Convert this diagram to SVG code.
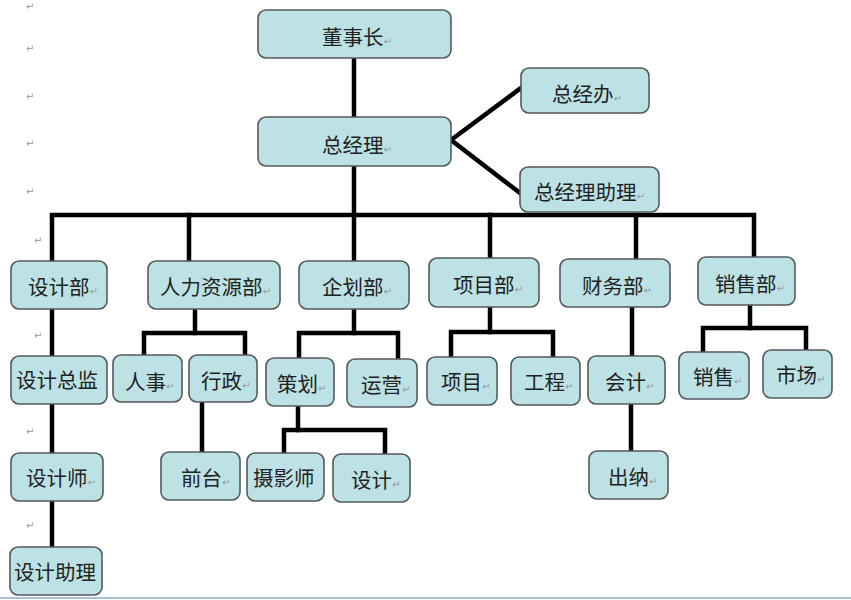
<svg xmlns="http://www.w3.org/2000/svg" width="851" height="600" viewBox="0 0 851 600">
<style>
.box{fill:#bde2e5;stroke:#555a5c;stroke-width:1.6}
.t{font-family:"Noto Sans CJK SC","Noto Sans",sans-serif;font-size:20.5px;fill:#222}
.pm{font-family:"DejaVu Sans","Noto Sans CJK SC",sans-serif;font-size:10px;fill:#9a9a9a}
.c{stroke:#000;stroke-width:4.5;fill:none;stroke-linecap:square;stroke-linejoin:miter}
</style>
<rect width="851" height="600" fill="#fff"/>
<line x1="0" y1="598" x2="851" y2="598" stroke="#a9bfd6" stroke-width="2"/>
<g id="marks" class="pm">
<text x="26" y="10">↵</text>
<text x="26" y="52">↵</text>
<text x="26" y="100">↵</text>
<text x="26" y="147">↵</text>
<text x="26" y="195">↵</text>
<text x="34" y="244">↵</text>
<text x="34" y="339">↵</text>
<text x="26" y="435">↵</text>
<text x="26" y="529">↵</text>
</g>
<g id="connectors" class="c">
<line x1="354" y1="58" x2="354" y2="117"/>
<line x1="354" y1="166" x2="354" y2="215"/>
<polyline points="521,88 451,140 520,193"/>
<polyline points="52,260 52,215 754,215 754,257"/>
<line x1="189" y1="215" x2="189" y2="261"/>
<line x1="354" y1="215" x2="354" y2="261"/>
<line x1="490" y1="215" x2="490" y2="258"/>
<line x1="636" y1="215" x2="636" y2="259"/>
<line x1="52" y1="309" x2="52" y2="356"/>
<line x1="195" y1="309" x2="195" y2="333"/>
<polyline points="144,355 144,333 245,333 245,355"/>
<line x1="354" y1="309" x2="354" y2="333"/>
<polyline points="299,358 299,333 398,333 398,359"/>
<line x1="490" y1="307" x2="490" y2="332"/>
<polyline points="451,357 451,332 553,332 553,357"/>
<line x1="632" y1="307" x2="632" y2="356"/>
<line x1="750" y1="305" x2="750" y2="328"/>
<polyline points="703,352 703,328 806,328 806,350"/>
<line x1="52" y1="404" x2="52" y2="453"/>
<line x1="52" y1="501" x2="52" y2="547"/>
<line x1="202" y1="402" x2="202" y2="452"/>
<line x1="298" y1="406" x2="298" y2="430"/>
<polyline points="284,453 284,430 385,430 385,454"/>
<line x1="631" y1="404" x2="631" y2="451"/>
</g>
<g id="n_dongshizhang"><rect class="box" x="258" y="10" width="193" height="48" rx="8"/><text class="t" x="322" y="45">董事长<tspan class="pm">↵</tspan></text></g>
<g id="n_zongjingli"><rect class="box" x="258" y="117" width="193" height="49" rx="8"/><text class="t" x="322" y="153">总经理<tspan class="pm">↵</tspan></text></g>
<g id="n_zongjingban"><rect class="box" x="521" y="68" width="128" height="45" rx="8"/><text class="t" x="552" y="102">总经办<tspan class="pm">↵</tspan></text></g>
<g id="n_zongjinglizhuli"><rect class="box" x="520" y="167" width="139" height="45" rx="8"/><text class="t" x="534" y="200">总经理助理<tspan class="pm">↵</tspan></text></g>
<g id="n_shejibu"><rect class="box" x="11" y="261" width="96" height="48" rx="8"/><text class="t" x="28" y="295">设计部<tspan class="pm">↵</tspan></text></g>
<g id="n_renli"><rect class="box" x="148" y="261" width="132" height="48" rx="8"/><text class="t" x="160" y="295">人力资源部<tspan class="pm">↵</tspan></text></g>
<g id="n_qihua"><rect class="box" x="299" y="261" width="110" height="48" rx="8"/><text class="t" x="322" y="295">企划部<tspan class="pm">↵</tspan></text></g>
<g id="n_xiangmubu"><rect class="box" x="429" y="258" width="110" height="49" rx="8"/><text class="t" x="453" y="293">项目部<tspan class="pm">↵</tspan></text></g>
<g id="n_caiwu"><rect class="box" x="560" y="259" width="110" height="48" rx="8"/><text class="t" x="582" y="294">财务部<tspan class="pm">↵</tspan></text></g>
<g id="n_xiaoshoubu"><rect class="box" x="698" y="257" width="97" height="48" rx="8"/><text class="t" x="715" y="292">销售部<tspan class="pm">↵</tspan></text></g>
<g id="n_shejizongjian"><rect class="box" x="11" y="356" width="96" height="48" rx="8"/><text class="t" x="16" y="388">设计总监</text></g>
<g id="n_renshi"><rect class="box" x="113" y="355" width="69" height="47" rx="8"/><text class="t" x="125" y="390">人事<tspan class="pm">↵</tspan></text></g>
<g id="n_xingzheng"><rect class="box" x="189" y="355" width="68" height="47" rx="8"/><text class="t" x="201" y="389">行政<tspan class="pm">↵</tspan></text></g>
<g id="n_cehua"><rect class="box" x="266" y="358" width="68" height="48" rx="8"/><text class="t" x="277" y="392">策划<tspan class="pm">↵</tspan></text></g>
<g id="n_yunying"><rect class="box" x="347" y="359" width="70" height="48" rx="8"/><text class="t" x="361" y="393">运营<tspan class="pm">↵</tspan></text></g>
<g id="n_xiangmu"><rect class="box" x="427" y="357" width="70" height="48" rx="8"/><text class="t" x="441" y="390">项目<tspan class="pm">↵</tspan></text></g>
<g id="n_gongcheng"><rect class="box" x="511" y="357" width="69" height="48" rx="8"/><text class="t" x="524" y="390">工程<tspan class="pm">↵</tspan></text></g>
<g id="n_kuaiji"><rect class="box" x="588" y="356" width="77" height="48" rx="8"/><text class="t" x="605" y="390">会计<tspan class="pm">↵</tspan></text></g>
<g id="n_xiaoshou"><rect class="box" x="679" y="352" width="70" height="47" rx="8"/><text class="t" x="693" y="385">销售<tspan class="pm">↵</tspan></text></g>
<g id="n_shichang"><rect class="box" x="763" y="350" width="69" height="48" rx="8"/><text class="t" x="776" y="383">市场<tspan class="pm">↵</tspan></text></g>
<g id="n_shejishi"><rect class="box" x="11" y="453" width="92" height="48" rx="8"/><text class="t" x="26" y="486">设计师<tspan class="pm">↵</tspan></text></g>
<g id="n_shejizhuli"><rect class="box" x="10" y="547" width="92" height="48" rx="8"/><text class="t" x="14" y="580">设计助理</text></g>
<g id="n_qiantai"><rect class="box" x="161" y="452" width="79" height="48" rx="8"/><text class="t" x="181" y="486">前台<tspan class="pm">↵</tspan></text></g>
<g id="n_sheyingshi"><rect class="box" x="247" y="453" width="77" height="48" rx="8"/><text class="t" x="253" y="486">摄影师</text></g>
<g id="n_sheji"><rect class="box" x="333" y="454" width="77" height="48" rx="8"/><text class="t" x="351" y="488">设计<tspan class="pm">↵</tspan></text></g>
<g id="n_chuna"><rect class="box" x="589" y="451" width="79" height="48" rx="8"/><text class="t" x="608" y="485">出纳<tspan class="pm">↵</tspan></text></g>
</svg>
